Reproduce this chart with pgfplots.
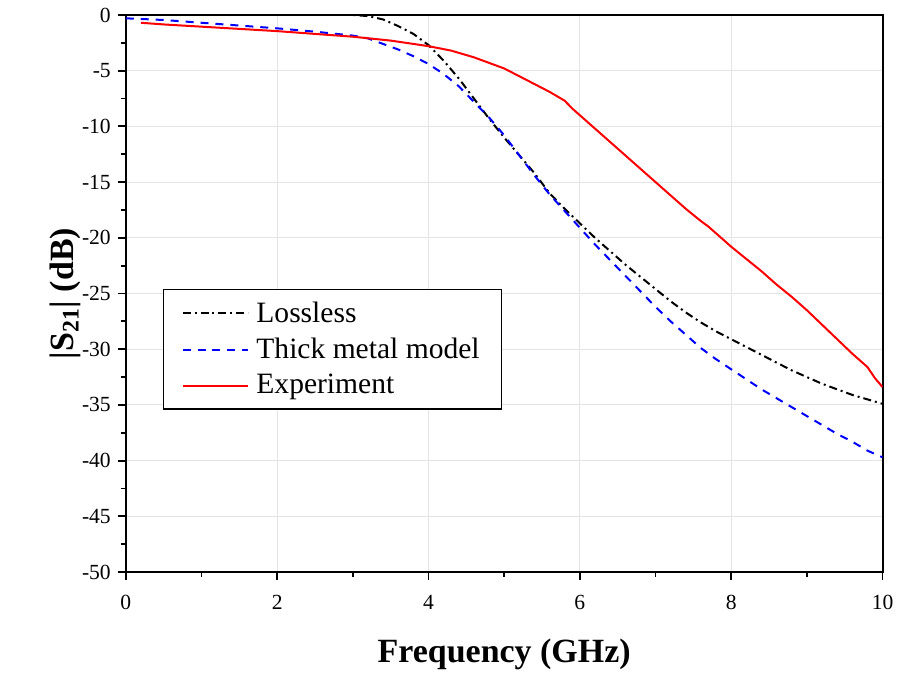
\documentclass[border=0pt]{standalone}
\usepackage{fontspec}
\setmainfont{Liberation Serif}
\usepackage{pgfplots}
\pgfplotsset{compat=1.18}
\definecolor{gridgray}{RGB}{228,228,228}
\begin{document}
\begin{tikzpicture}
\begin{axis}[
  scale only axis,
  width=379pt, height=279pt,
  xmin=0, xmax=10, ymin=-50, ymax=0,
  xtick={0,2,...,10}, ytick={-50,-45,...,0},
  minor x tick num=1, minor y tick num=1,
  xtick pos=bottom, ytick pos=left,
  tick align=outside,
  major tick length=4pt, minor tick length=2.5pt,
  every tick/.style={black, line width=0.9pt},
  axis line style={line width=1pt},
  grid=major,
  major grid style={gridgray, line width=0.5pt},
  /pgf/number format/assume math mode=true,
  tick label style={font=\fontsize{10.8}{12}\selectfont},
  xticklabel style={yshift=-4pt},
  xlabel={\textbf{Frequency (GHz)}},
  ylabel={\textbf{|S\textsubscript{21}| (dB)}},
  label style={font=\fontsize{17}{20}\selectfont},
  xlabel style={at={(axis description cs:0.5,-0.147)}, anchor=center},
  ylabel style={at={(axis description cs:-0.08,0.5)}, anchor=center},
  legend style={at={(axis cs:0.49,-24.6)}, anchor=north west, draw=black, line width=0.7pt,
    font=\fontsize{14.8}{17}\selectfont, row sep=2.4pt, column sep=1.5pt, inner xsep=9pt, inner ysep=4pt,
    cells={anchor=west}},
  legend image code/.code={\draw[#1, line width=1pt] (0pt,0pt) -- (33pt,0pt);},
  legend cell align=left,
]
\addplot[black, line width=1pt, dash pattern=on 4pt off 2pt on 1pt off 2pt] coordinates {
(0,0) (0.5,0) (1,0) (1.5,0) (2,0) (2.5,0) (3.0,0) (3.2,-0.1) (3.4,-0.4) (3.6,-1.0) (3.8,-1.7)
(4.0,-2.7) (4.2,-4.1) (4.4,-5.7) (4.6,-7.5) (4.8,-9.3) (5.0,-11.0) (5.2,-12.6) (5.4,-14.2)
(5.6,-16.0) (5.8,-17.4) (6.0,-18.7) (6.2,-20.0) (6.4,-21.2) (6.6,-22.4) (6.8,-23.5) (7.0,-24.6)
(7.2,-25.7) (7.4,-26.7) (7.6,-27.6) (7.8,-28.4) (8.0,-29.1) (8.2,-29.8) (8.4,-30.5) (8.6,-31.2)
(8.8,-31.9) (9.0,-32.5) (9.2,-33.1) (9.4,-33.6) (9.6,-34.1) (9.8,-34.5) (10,-34.9)
};
\addlegendentry{Lossless}
\addplot[blue, line width=1pt, dash pattern=on 4pt off 3.5pt] coordinates {
(0,-0.3) (0.5,-0.45) (1,-0.7) (1.5,-0.95) (2,-1.2) (2.5,-1.5) (3.0,-1.85) (3.2,-2.1) (3.4,-2.6)
(3.6,-3.1) (3.8,-3.7) (4.0,-4.4) (4.2,-5.3) (4.4,-6.4) (4.6,-7.8) (4.8,-9.2) (5.0,-10.8)
(5.2,-12.6) (5.4,-14.4) (5.6,-16.1) (5.8,-17.6) (6.0,-19.1) (6.2,-20.6) (6.4,-22.0) (6.6,-23.4)
(6.8,-24.8) (7.0,-26.2) (7.2,-27.5) (7.4,-28.7) (7.6,-29.9) (7.8,-30.9) (8.0,-31.8) (8.2,-32.7)
(8.4,-33.6) (8.6,-34.4) (8.8,-35.2) (9.0,-36.0) (9.2,-36.8) (9.4,-37.6) (9.6,-38.3) (9.8,-39.1) (10,-39.7)
};
\addlegendentry{Thick metal model}
\addplot[red, line width=1pt] coordinates {
(0.2,-0.7) (0.5,-0.85) (1.0,-1.05) (1.5,-1.25) (2.0,-1.45) (2.5,-1.7) (3.0,-1.95) (3.5,-2.3)
(4.0,-2.8) (4.3,-3.2) (4.6,-3.8) (4.8,-4.3) (5.0,-4.8) (5.2,-5.5) (5.4,-6.2) (5.6,-6.9)
(5.75,-7.5) (5.8,-7.7) (5.9,-8.4) (6.0,-9.0) (6.2,-10.2) (6.4,-11.4) (6.6,-12.6) (6.8,-13.8)
(7.0,-15.0) (7.2,-16.2) (7.4,-17.4) (7.6,-18.5) (7.7,-19.0) (7.8,-19.6) (8.0,-20.8) (8.2,-21.9)
(8.4,-23.0) (8.6,-24.2) (8.8,-25.3) (9.0,-26.5) (9.2,-27.8) (9.4,-29.1) (9.6,-30.4) (9.8,-31.6)
(9.9,-32.6) (10.0,-33.4)
};
\addlegendentry{Experiment}
\end{axis}
\path (current axis.south west) ++(-63pt,-51pt);
\path (current axis.north east) ++(8pt,7.5pt);
\end{tikzpicture}
\end{document}
